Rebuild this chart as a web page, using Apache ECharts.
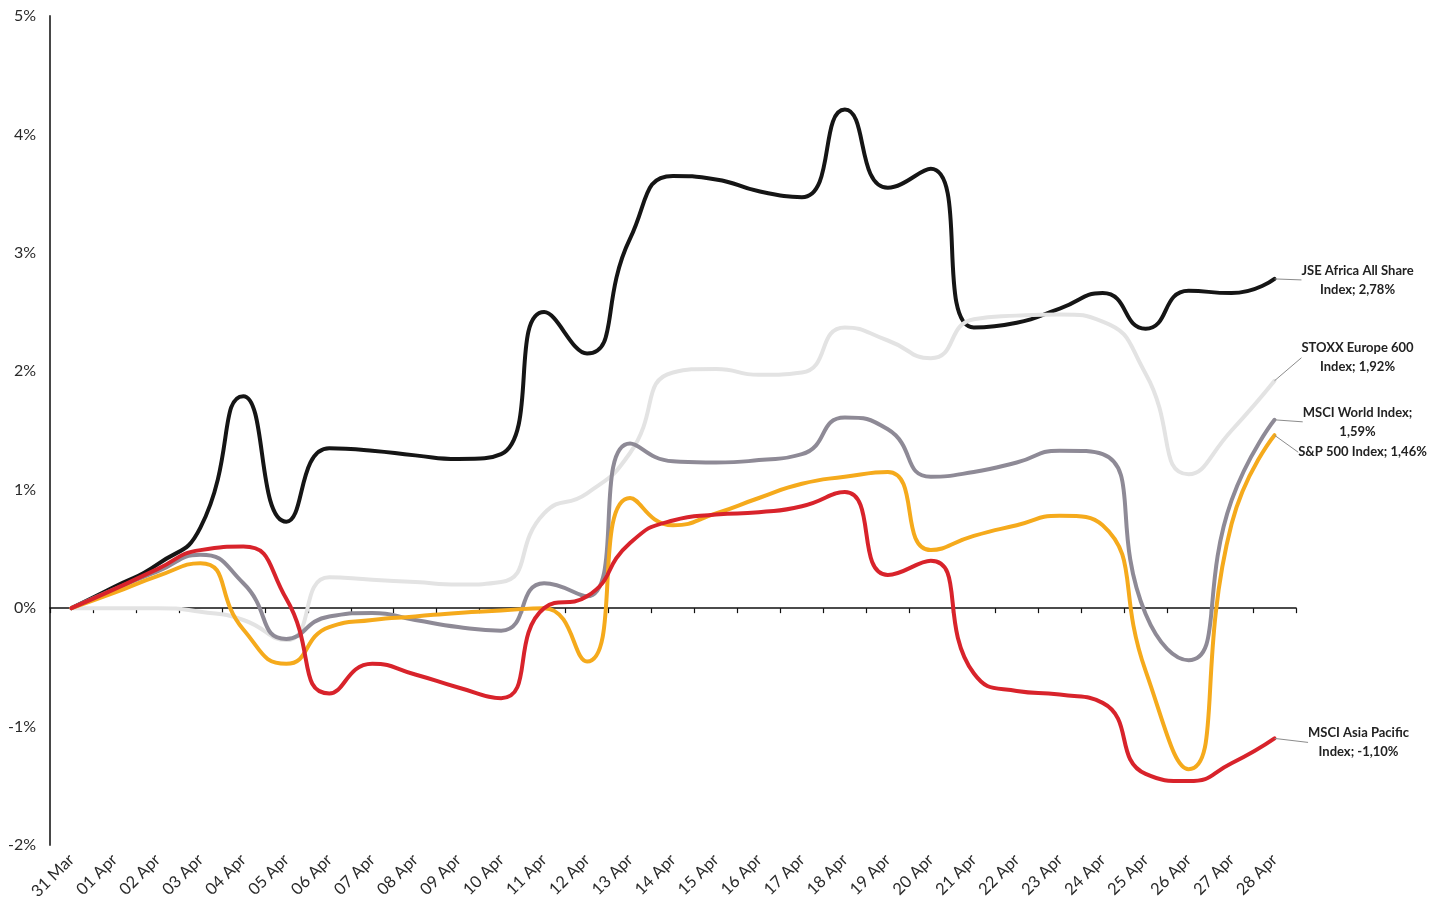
<!DOCTYPE html>
<html>
<head>
<meta charset="utf-8">
<script src="https://cdn.jsdelivr.net/npm/echarts@6/dist/echarts.min.js"></script>
<style>
  html, body { margin: 0; padding: 0; background: #ffffff; }
  #chart { width: 1447px; height: 917px; }
</style>
</head>
<body>
<div id="chart"></div>
<script>
// Daily cumulative performance, 31 Mar - 28 Apr (%)
const categories = ['31 Mar', '01 Apr', '02 Apr', '03 Apr', '04 Apr', '05 Apr', '06 Apr', '07 Apr',
  '08 Apr', '09 Apr', '10 Apr', '11 Apr', '12 Apr', '13 Apr', '14 Apr', '15 Apr', '16 Apr', '17 Apr',
  '18 Apr', '19 Apr', '20 Apr', '21 Apr', '22 Apr', '23 Apr', '24 Apr', '25 Apr', '26 Apr', '27 Apr', '28 Apr'];

const jseAllShare = [0, 0.18, 0.37, 0.68, 1.79, 0.73, 1.35, 1.33, 1.29, 1.26, 1.30, 2.50, 2.15, 3.12, 3.65,
  3.62, 3.52, 3.47, 4.21, 3.55, 3.71, 2.37, 2.41, 2.53, 2.66, 2.36, 2.68, 2.66, 2.78];
const stoxx600 = [0, 0, 0, -0.03, -0.10, -0.27, 0.26, 0.24, 0.22, 0.20, 0.22, 0.80, 0.97, 1.31, 1.99,
  2.02, 1.97, 1.99, 2.37, 2.26, 2.11, 2.44, 2.47, 2.48, 2.42, 1.98, 1.13, 1.50, 1.92];
const msciWorld = [0, 0.16, 0.31, 0.45, 0.21, -0.26, -0.07, -0.04, -0.10, -0.16, -0.19, 0.21, 0.10, 1.39, 1.24,
  1.23, 1.25, 1.30, 1.61, 1.51, 1.11, 1.15, 1.23, 1.33, 1.30, -0.05, -0.44, 0.91, 1.59];
const sp500 = [0, 0.13, 0.27, 0.38, -0.18, -0.47, -0.16, -0.10, -0.07, -0.04, -0.02, 0.00, -0.45, 0.93, 0.70,
  0.80, 0.93, 1.05, 1.11, 1.15, 0.49, 0.61, 0.70, 0.78, 0.70, -0.53, -1.36, 0.71, 1.46];
const msciAsiaPacific = [0, 0.16, 0.33, 0.49, 0.52, 0.08, -0.72, -0.47, -0.56, -0.67, -0.76, 0.00, 0.10, 0.55, 0.74,
  0.79, 0.81, 0.86, 0.98, 0.28, 0.40, -0.55, -0.70, -0.73, -0.80, -1.40, -1.46, -1.31, -1.10];

const yTicks = { min: -2, max: 5, interval: 1 };

// Series definitions: values, end-label template, line colour, end-label placement
const seriesDefs = [
  { name: 'JSE Africa All Share Index', values: jseAllShare, label: 'JSE Africa All Share\nIndex; {v}', color: '#151515', dx: 83, dy: 1 },
  { name: 'STOXX Europe 600 Index', values: stoxx600, label: 'STOXX Europe 600\nIndex; {v}', color: '#e3e3e3', dx: 83, dy: -23 },
  { name: 'MSCI World Index', values: msciWorld, label: 'MSCI World Index;\n{v}', color: '#8e8a96', dx: 83, dy: 2 },
  { name: 'S&P 500 Index', values: sp500, label: 'S&P 500 Index; {v}', color: '#f5aa1c', dx: 88, dy: 17 },
  { name: 'MSCI Asia Pacific Index', values: msciAsiaPacific, label: 'MSCI Asia Pacific\nIndex; {v}', color: '#d8232b', dx: 84, dy: 4 }
];

const fmtPct = v => v.toFixed(2).replace('.', ',') + '%';
const FONT = 'Lato, "Open Sans", sans-serif';

const series = seriesDefs.map(def => {
  const last = def.values.length - 1;
  return {
    name: def.name,
    type: 'line',
    xAxisIndex: 0,
    yAxisIndex: 0,
    smooth: 0.55,
    symbol: 'circle',
    symbolSize: 0,
    showSymbol: true,
    showAllSymbol: true,
    silent: true,
    emphasis: { disabled: true },
    lineStyle: { color: def.color, width: 4, cap: 'round', join: 'round' },
    itemStyle: { color: def.color },
    data: def.values.map((v, i) => i === last ? { value: v, label: { show: true } } : v),
    label: {
      show: false,
      formatter: p => def.label.replace('{v}', fmtPct(p.value)),
      fontFamily: FONT,
      fontWeight: 'bold',
      fontSize: 13,
      lineHeight: 19,
      color: '#222'
    },
    labelLine: {
      show: true,
      length2: 6,
      lineStyle: { color: '#8c8c8c', width: 1 }
    },
    labelLayout: p => ({
      x: p.rect.x + p.rect.width / 2 + def.dx,
      y: p.rect.y + p.rect.height / 2 + def.dy,
      align: 'center',
      verticalAlign: 'middle'
    })
  };
});

const chart = echarts.init(document.getElementById('chart'), null, { renderer: 'canvas' });
chart.setOption({
  animation: false,
  backgroundColor: '#ffffff',
  grid: { left: 50, right: 151, top: 16, bottom: 72, containLabel: false },
  xAxis: [
    {
      // date labels along the bottom edge
      type: 'category',
      data: categories,
      position: 'bottom',
      boundaryGap: true,
      axisLine: { show: false, onZero: false },
      axisTick: { show: false },
      splitLine: { show: false },
      axisLabel: { interval: 0, rotate: 45, margin: 12, fontSize: 16.5, color: '#2a2a2a', fontFamily: FONT }
    },
    {
      // baseline with ticks drawn at 0%
      type: 'category',
      data: categories,
      position: 'top',
      boundaryGap: true,
      axisLine: { show: true, onZero: true, lineStyle: { color: '#111', width: 1.6 } },
      axisTick: { show: true, inside: true, length: 5, interval: 0, lineStyle: { color: '#111', width: 1.2 } },
      axisLabel: { show: false },
      splitLine: { show: false }
    }
  ],
  yAxis: {
    type: 'value',
    min: yTicks.min,
    max: yTicks.max,
    interval: yTicks.interval,
    axisLine: { show: true, lineStyle: { color: '#333', width: 1.8 } },
    axisTick: { show: false },
    splitLine: { show: false },
    axisLabel: { formatter: '{value}%', fontSize: 16, margin: 14, color: '#2a2a2a', fontFamily: FONT }
  },
  series: series
});
</script>
</body>
</html>
